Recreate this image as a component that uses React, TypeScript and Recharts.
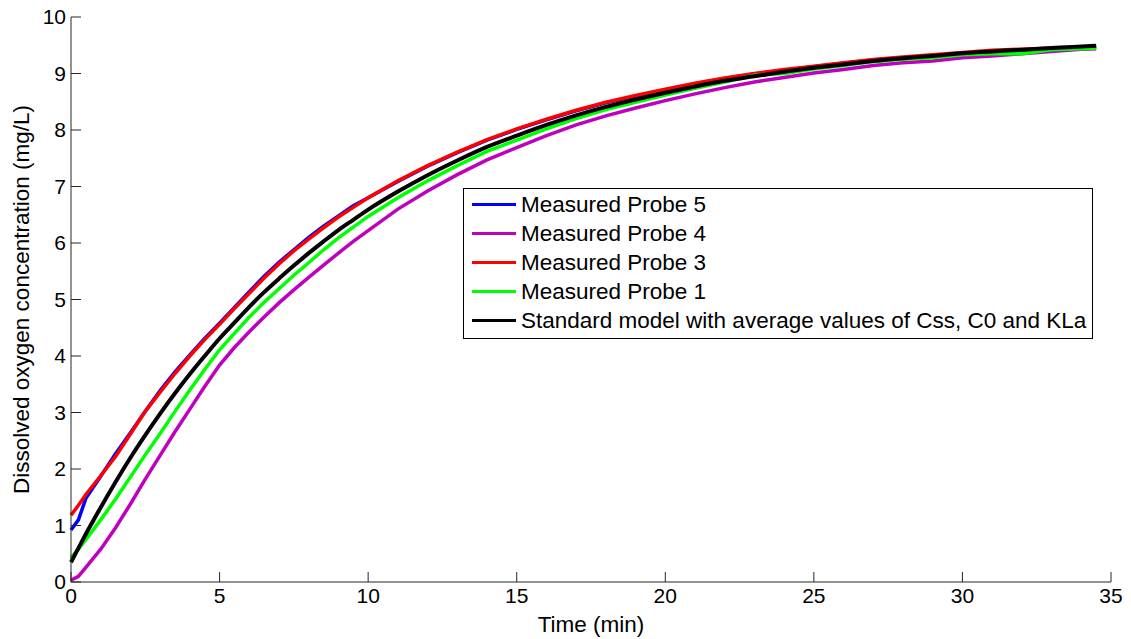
import React from 'react';
import { LineChart, Line, XAxis, YAxis } from 'recharts';

// time axis (min)
const times = [
  0, 0.25, 0.5, 1, 1.5, 2, 2.5, 3, 3.5, 4, 4.5, 5, 5.5, 6, 6.5, 7, 7.5, 8, 8.5, 9, 9.5, 10,
  11, 12, 13, 14, 15, 16, 17, 18, 19, 20, 21, 22, 23, 24, 25, 26, 27, 28, 29, 30, 31, 32, 33, 34,
  34.5,
];

const probe5 = [
  0.92, 1.1, 1.48, 1.87, 2.27, 2.64, 3.02, 3.39, 3.72, 4.02, 4.31, 4.58, 4.86, 5.14, 5.41, 5.66, 5.88, 6.1, 6.3, 6.48, 6.66, 6.8,
  7.09, 7.36, 7.6, 7.82, 8.01, 8.18, 8.34, 8.48, 8.6, 8.71, 8.82, 8.91, 8.99, 9.06, 9.12, 9.18, 9.24, 9.28, 9.32, 9.36, 9.4, 9.42, 9.44, 9.46,
  9.46,
];

const probe4 = [
  0.03, 0.1, 0.26, 0.58, 0.96, 1.38, 1.82, 2.24, 2.66, 3.06, 3.46, 3.84, 4.15, 4.43, 4.69, 4.94, 5.17, 5.39, 5.61, 5.82, 6.03, 6.22,
  6.6, 6.92, 7.21, 7.47, 7.69, 7.9, 8.09, 8.25, 8.39, 8.52, 8.64, 8.75, 8.85, 8.93, 9.01, 9.07, 9.14, 9.19, 9.22, 9.28, 9.31, 9.35, 9.39, 9.43,
  9.44,
];

const probe3 = [
  1.18, 1.36, 1.55, 1.88, 2.22, 2.62, 3.02, 3.36, 3.69, 4.0, 4.29, 4.56, 4.84, 5.11, 5.38, 5.63, 5.86, 6.07, 6.27, 6.46, 6.63, 6.8,
  7.1, 7.37, 7.61, 7.83, 8.02, 8.19, 8.35, 8.49, 8.61, 8.72, 8.83, 8.92, 9.0, 9.07, 9.13, 9.19, 9.25, 9.29, 9.33, 9.37, 9.41, 9.43, 9.45, 9.47,
  9.47,
];

const probe1 = [
  0.43, 0.58, 0.75, 1.1, 1.47, 1.86, 2.25, 2.63, 3.02, 3.4, 3.76, 4.11, 4.4, 4.69, 4.95, 5.19, 5.43, 5.65, 5.88, 6.09, 6.28, 6.47,
  6.8, 7.1, 7.37, 7.62, 7.82, 8.02, 8.2, 8.36, 8.49, 8.62, 8.74, 8.85, 8.97, 9.0, 9.08, 9.14, 9.21, 9.25, 9.28, 9.33, 9.35, 9.35, 9.42, 9.44,
  9.45,
];

const model = [
  0.35, 0.6, 0.85, 1.32, 1.77, 2.2, 2.6, 2.98, 3.34, 3.68, 4.0, 4.31, 4.59, 4.87, 5.13, 5.37, 5.6, 5.82, 6.03, 6.23, 6.41, 6.59,
  6.91, 7.2, 7.46, 7.7, 7.9, 8.09, 8.26, 8.41, 8.54, 8.66, 8.77, 8.87, 8.95, 9.03, 9.1, 9.16, 9.22, 9.27, 9.31, 9.36, 9.39, 9.42, 9.45, 9.48,
  9.49,
];

const xTicks = [0, 5, 10, 15, 20, 25, 30, 35];
const yTicks = [0, 1, 2, 3, 4, 5, 6, 7, 8, 9, 10];

const series = [
  { key: 'p5', name: 'Measured Probe 5', color: '#0000ff', values: probe5 },
  { key: 'p4', name: 'Measured Probe 4', color: '#bf00bf', values: probe4 },
  { key: 'p3', name: 'Measured Probe 3', color: '#ff0000', values: probe3 },
  { key: 'p1', name: 'Measured Probe 1', color: '#00ff00', values: probe1 },
  { key: 'model', name: 'Standard model with average values of Css, C0 and KLa', color: '#000000', values: model },
];

const data = times.map((t, i) => {
  const row: Record<string, number> = { t };
  series.forEach((s) => {
    row[s.key] = s.values[i];
  });
  return row;
});

const FONT = '"Liberation Sans", Arial, sans-serif';
const AXIS = '#262626';

// negative tick size draws the tick marks inward (MATLAB style)
const TICK_IN = -10;

const LegendBox = () => (
  <div
    style={{
      position: 'absolute',
      left: 463,
      top: 188,
      width: 630,
      height: 151,
      border: '1px solid #000',
      background: '#fff',
      paddingTop: 1,
      fontFamily: FONT,
      fontSize: 22.5,
      color: '#000',
      boxSizing: 'border-box',
    }}
  >
    {series.map((s) => (
      <div key={s.key} style={{ display: 'flex', alignItems: 'center', height: 29, whiteSpace: 'nowrap' }}>
        <span style={{ display: 'inline-block', width: 44, height: 3, background: s.color, marginLeft: 8, marginRight: 5 }} />
        <span>{s.name}</span>
      </div>
    ))}
  </div>
);

export default function App() {
  return (
    <div style={{ position: 'absolute', left: 0, top: 0, width: 1131, height: 639, background: '#fff' }}>
      <LineChart width={1131} height={639} data={data} margin={{ top: 17, right: 20, left: 0, bottom: 0 }}>
        <XAxis
          dataKey="t"
          type="number"
          domain={[0, 35]}
          ticks={xTicks}
          interval={0}
          tickSize={TICK_IN}
          tickMargin={16}
          tickLine={{ stroke: AXIS, strokeWidth: 1 }}
          tick={{ fontSize: 21, fontFamily: FONT, fill: '#000' }}
          axisLine={{ stroke: AXIS, strokeWidth: 1 }}
          height={57}
          label={{ value: 'Time (min)', position: 'insideBottom', offset: 7, fontSize: 22.5, fontFamily: FONT, fill: '#000' }}
        />
        <YAxis
          type="number"
          domain={[0, 10]}
          ticks={yTicks}
          interval={0}
          tickSize={TICK_IN}
          tickMargin={15}
          tickLine={{ stroke: AXIS, strokeWidth: 1 }}
          tick={{ fontSize: 21, fontFamily: FONT, fill: '#000' }}
          axisLine={{ stroke: AXIS, strokeWidth: 1 }}
          width={71}
          label={{
            value: 'Dissolved oxygen concentration (mg/L)',
            angle: -90,
            position: 'insideLeft',
            dx: 16,
            fontSize: 22.5,
            fontFamily: FONT,
            fill: '#000',
            style: { textAnchor: 'middle' },
          }}
        />
        {series.map((s) => (
          <Line
            key={s.key}
            dataKey={s.key}
            name={s.name}
            stroke={s.color}
            strokeWidth={s.key === 'model' ? 4 : 3.5}
            type={s.key === 'model' ? 'monotone' : 'linear'}
            dot={false}
            isAnimationActive={false}
          />
        ))}
      </LineChart>
      <LegendBox />
    </div>
  );
}
